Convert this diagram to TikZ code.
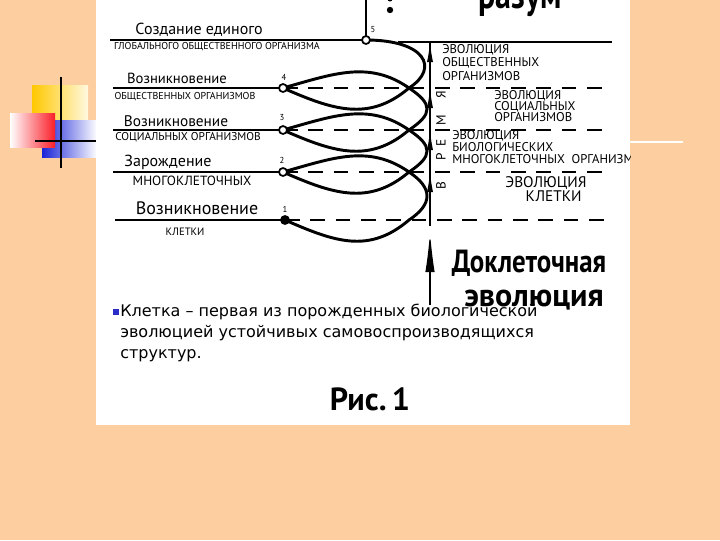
\documentclass[tikz,border=0pt]{standalone}
\usepackage{fontspec}
\setmainfont{DejaVu Sans}
\newfontfamily\handfont{PT Sans}
\usetikzlibrary{arrows.meta}

\definecolor{peach}{RGB}{252,206,160}
\definecolor{padyellow}{RGB}{255,200,0}
\definecolor{padred}{RGB}{250,30,40}
\definecolor{padblue}{RGB}{25,35,215}
\definecolor{bulletblue}{RGB}{45,45,200}

\tikzset{
  spiral/.style={line width=2.2pt, line cap=round},
  labelrule/.style={line width=2pt},
  levelline/.style={line width=0.9pt, dash pattern=on 11pt off 8pt},
  dot/.style={circle, draw, line width=1.3pt, fill=white, inner sep=0pt, minimum size=6pt},
  head/.style={font=\handfont\fontsize{12}{14}\selectfont, inner sep=0pt},
  sub/.style={font=\handfont\fontsize{7.5}{8}\selectfont, inner sep=0pt},
  num/.style={font=\handfont\fontsize{6.5}{7}\selectfont, inner sep=0pt},
  evo/.style={font=\handfont\fontsize{9.5}{10}\selectfont, align=left, inner sep=0pt},
  timeletter/.style={font=\handfont\fontsize{10}{11}\selectfont, rotate=90, inner sep=0pt},
  bigword/.style={font=\handfont\bfseries\fontsize{24}{26}\selectfont, inner sep=0pt},
  bodytext/.style={font=\fontsize{12}{15.75}\selectfont, align=left, inner sep=0pt},
  timearrow/.style={line width=0.9pt, -{Latex[length=15pt,width=4.5pt]}},
}

\begin{document}
\begin{tikzpicture}[x=0.75pt,y=0.75pt,yscale=-1,xscale=1]
\useasboundingbox (0,0) rectangle (720,540);

%Page and corner squares
\fill[peach] (0,0) rectangle (720,540);
\shade[left color=padyellow, right color=padyellow!12] (32,85) rectangle (88,142);
\shade[left color=padblue, right color=white] (42,120) rectangle (97,157);
\shade[left color=white, right color=padred] (10,113) rectangle (55,147);
\draw[line width=2.2pt] (61,77) -- (61,168);
\draw[line width=2.2pt] (35,141) -- (97,141);
\draw[white, line width=1.5pt] (630,142) -- (683,142);
\fill[white] (96,0) rectangle (630,425);

\begin{scope}
\clip (96,0) rectangle (630,425);

% points of the spiral
\coordinate (p5) at (366,40);
\coordinate (p4) at (283,88);
\coordinate (p3) at (283,130);
\coordinate (p2) at (283,172);
\coordinate (p1) at (285,220);
\coordinate (c4) at (409,88);
\coordinate (c3) at (409,130);
\coordinate (c2) at (409,172);
\coordinate (c1) at (409,220);
% left and right ends of the level lines
\coordinate (q5) at (110,40);
\coordinate (q4) at (113,88);
\coordinate (q3) at (113,130);
\coordinate (q2) at (113,172);
\coordinate (q1) at (115,220);
\coordinate (r5) at (612,42);
\coordinate (r4) at (612,88);
\coordinate (r3) at (612,130);
\coordinate (r2) at (612,172);
\coordinate (r1) at (612,220);
\coordinate (s5) at (398,42);
% time axis
\coordinate (a5) at (430,42);
\coordinate (a4) at (430,88);
\coordinate (a3) at (430,130);
\coordinate (a2) at (430,172);
\coordinate (a1) at (430,220);
\coordinate (a0) at (430,226);
\coordinate (b1) at (430,232);
\coordinate (b0) at (430,305);
\coordinate (top) at (366,-5);

%Straight Lines
\draw[labelrule] (top) -- (p5);
\draw[labelrule] (q5) -- (p5);
\draw[labelrule] (q4) -- (p4);
\draw[labelrule] (q3) -- (p3);
\draw[labelrule] (q2) -- (p2);
\draw[line width=1.6pt] (q1) -- (p1);

%Dashed Lines
\draw[line width=0.8pt] (s5) -- (r5);
\draw[levelline] (p4) -- (r4);
\draw[levelline] (p3) -- (r3);
\draw[levelline] (p2) -- (r2);
\draw[levelline] (p1) -- (r1);

%Curve Lines
\draw[spiral] (p1) .. controls +(50,22) and +(-40,34) .. (c1)
  .. controls +(24,-16) and +(24,16) .. (c2)
  .. controls +(-40,-28) and +(50,-14) .. (p2)
  .. controls +(50,22) and +(-40,34) .. (c2)
  .. controls +(24,-16) and +(24,16) .. (c3)
  .. controls +(-40,-28) and +(50,-14) .. (p3)
  .. controls +(50,22) and +(-40,34) .. (c3)
  .. controls +(24,-16) and +(24,16) .. (c4)
  .. controls +(-40,-28) and +(50,-14) .. (p4)
  .. controls +(50,22) and +(-40,34) .. (c4)
  .. controls +(31,-20) and +(59,0) .. (p5);

% Nodes of the spiral
\node[dot] (n5) at (p5) {};
\node[dot] (n4) at (p4) {};
\node[dot] (n3) at (p3) {};
\node[dot] (n2) at (p2) {};
\node[dot, fill=black] (n1) at (p1) {};
\node[num] (k5) at (373,30) {5};
\node[num] (k4) at (284,77) {4};
\node[num] (k3) at (282,118) {3};
\node[num] (k2) at (282,160) {2};
\node[num] (k1) at (285,209) {1};

%Time axis
\draw[line width=0.9pt] (a0) -- (a5);
\draw[timearrow] (a1) -- (a2);
\draw[timearrow] (a2) -- (a3);
\draw[timearrow] (a3) -- (a4);
\draw[timearrow] (a4) -- (a5);
\draw[line width=0.9pt, -{Latex[length=30pt,width=7pt]}] (b0) -- (b1);
\node[timeletter] (tV) at (441,186) {В};
\node[timeletter] (tR) at (441,157) {Р};
\node[timeletter] (tE) at (441,143) {Е};
\node[timeletter] (tM) at (441,120) {М};
\node[timeletter] (tJa) at (441,95) {Я};
\fill (390,10) circle [radius=3.2];
\fill (390,-1) circle [radius=2.5];

% Text Node
\node[head] (h5) at (199,30) {Создание единого};
\node[sub] (u5) at (217,47) {ГЛОБАЛЬНОГО ОБЩЕСТВЕННОГО ОРГАНИЗМА};
% Text Node
\node[head, font=\handfont\fontsize{11}{13}\selectfont] (h4) at (177,78) {Возникновение};
\node[sub] (u4) at (185,97) {ОБЩЕСТВЕННЫХ ОРГАНИЗМОВ};
% Text Node
\node[head, font=\handfont\fontsize{11.5}{13}\selectfont] (h3) at (176,121) {Возникновение};
\node[sub, font=\handfont\fontsize{8.5}{9}\selectfont] (u3) at (188,137) {СОЦИАЛЬНЫХ ОРГАНИЗМОВ};
% Text Node
\node[head] (h2) at (168,162) {Зарождение};
\node[sub, font=\handfont\fontsize{10}{11}\selectfont] (u2) at (192,181) {МНОГОКЛЕТОЧНЫХ};
% Text Node
\node[head, font=\handfont\fontsize{13.5}{15}\selectfont] (h1) at (197,208) {Возникновение};
\node[sub, font=\handfont\fontsize{8}{9}\selectfont] (u1) at (185,232) {КЛЕТКИ};

% Text Node
\node[evo, anchor=west] (e4) at (442,62.5) {ЭВОЛЮЦИЯ\\ОБЩЕСТВЕННЫХ\\ОРГАНИЗМОВ};
\node[evo, anchor=west, font=\handfont\fontsize{9.5}{8.5}\selectfont] (e3) at (494,106) {ЭВОЛЮЦИЯ\\СОЦИАЛЬНЫХ\\ОРГАНИЗМОВ};
\node[evo, anchor=west, font=\handfont\fontsize{9.5}{9}\selectfont] (e2) at (452,147) {ЭВОЛЮЦИЯ\\БИОЛОГИЧЕСКИХ\\МНОГОКЛЕТОЧНЫХ \ ОРГАНИЗМОВ};
\node[evo, align=center, font=\handfont\fontsize{11.5}{10}\selectfont] (e1) at (546,189) {ЭВОЛЮЦИЯ\\\quad КЛЕТКИ};

% Text Node
\node[bigword, anchor=base, font=\handfont\bfseries\fontsize{30}{32}\selectfont] (razum) at (520,8) {\scalebox{0.8}[1]{разум}};
\node[bigword, anchor=base] (dokl) at (529,272) {\scalebox{0.84}[1]{Доклеточная}};
\node[bigword, anchor=base] (evol) at (534,306) {эволюция};

% Text Node
\node[bodytext, anchor=north west] (note) at (120,304) {\llap{\textcolor{bulletblue}{\rule[1.5pt]{4.5pt}{4.5pt}}\hspace{1pt}}Клетка – первая из порожденных биологической\\эволюцией устойчивых самовоспроизводящихся\\структур.};
\node[bigword, anchor=base] (fig) at (370,410) {Рис.\,1};
\end{scope}

\end{tikzpicture}
\end{document}
